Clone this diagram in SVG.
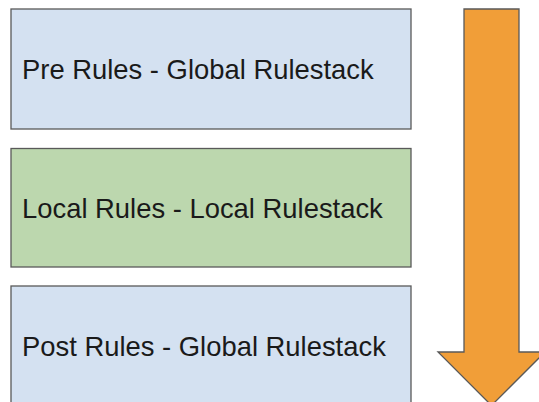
<svg xmlns="http://www.w3.org/2000/svg" width="539" height="402" viewBox="0 0 539 402">
<style>
.box{stroke:#595959;stroke-width:1.3}
.blue{fill:#d4e1f1}
.green{fill:#bcd7ae}
.lbl{font-family:"Liberation Sans",Arial,sans-serif;font-size:27.4px;fill:#1a1a1a}
</style>
<rect width="539" height="402" fill="#ffffff"/>
<g id="pre">
<rect class="box blue" x="11" y="9" width="400" height="120"/>
<text class="lbl" x="22" y="79">Pre Rules - Global Rulestack</text>
</g>
<g id="local">
<rect class="box green" x="11" y="148.5" width="400" height="118.5"/>
<text class="lbl" x="22" y="218">Local Rules - Local Rulestack</text>
</g>
<g id="post">
<rect class="box blue" x="11" y="286" width="400" height="130"/>
<text class="lbl" x="22" y="356">Post Rules - Global Rulestack</text>
</g>
<g id="connectors">
<path d="M464 9 H519 V352 H545 L491.5 405.5 L438 352 H464 Z" fill="#f19e38" stroke="#595959" stroke-width="1.3" stroke-linejoin="miter"/>
</g>
</svg>
